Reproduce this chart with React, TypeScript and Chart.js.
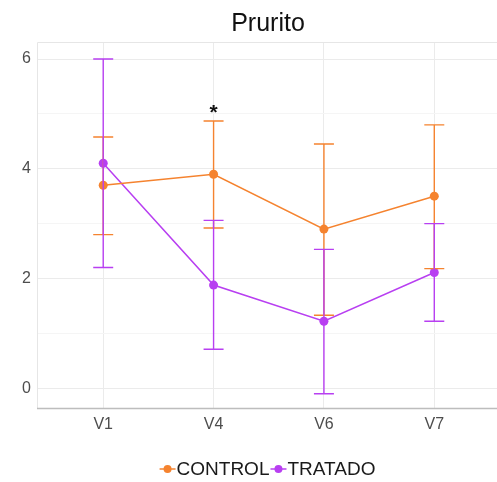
import React, { useEffect, useRef } from "react";
import { Chart, registerables } from "chart.js";

Chart.register(...registerables);

const categories = ["V1", "V4", "V6", "V7"];
const controlMean = [3.7, 3.9, 2.9, 3.5];
const controlLow = [2.8, 2.92, 1.33, 2.18];
const controlHigh = [4.58, 4.87, 4.45, 4.8];
const tratadoMean = [4.1, 1.88, 1.22, 2.11];
const tratadoLow = [2.2, 0.71, -0.1, 1.22];
const tratadoHigh = [6.0, 3.06, 2.53, 3.0];
const yTicks = [0, 2, 4, 6];
const yMinorTicks = [1, 3, 5];
const starCategory = 1;
const starValue = 5.05;
const titleText = "Prurito";
const seriesNames = ["CONTROL", "TRATADO"];

const ORANGE = "#f5832f";
const PURPLE = "#b83ff1";
const FONT = "'Liberation Sans', Arial, sans-serif";

export default function App() {
  const ref = useRef<HTMLCanvasElement | null>(null);

  useEffect(() => {
    if (!ref.current) return;
    const errorPlugin = {
      id: "extras",
      afterDatasetsDraw(chart: any) {
        const ctx = chart.ctx;
        const x = chart.scales.x;
        const y = chart.scales.y;
        const bars = [
          { lo: controlLow, hi: controlHigh, color: ORANGE },
          { lo: tratadoLow, hi: tratadoHigh, color: PURPLE },
        ];
        ctx.save();
        ctx.lineWidth = 1.4;
        bars.forEach((b) => {
          ctx.strokeStyle = b.color;
          b.lo.forEach((lo, i) => {
            const px = x.getPixelForValue(i);
            const y1 = y.getPixelForValue(lo);
            const y2 = y.getPixelForValue(b.hi[i]);
            ctx.beginPath();
            ctx.moveTo(px, y1);
            ctx.lineTo(px, y2);
            ctx.moveTo(px - 10, y1);
            ctx.lineTo(px + 10, y1);
            ctx.moveTo(px - 10, y2);
            ctx.lineTo(px + 10, y2);
            ctx.stroke();
          });
        });
        // asterisk
        ctx.fillStyle = "#111";
        ctx.font = `bold 21px ${FONT}`;
        ctx.textAlign = "center";
        ctx.textBaseline = "middle";
        ctx.fillText("*", x.getPixelForValue(starCategory), y.getPixelForValue(starValue) + 2);
        ctx.restore();
      },
      afterDraw(chart: any) {
        const ctx = chart.ctx;
        const area = chart.chartArea;
        const cx = (area.left + 499) / 2;
        ctx.save();
        // panel top/left border
        ctx.strokeStyle = "#e6e6e6";
        ctx.lineWidth = 1;
        ctx.beginPath();
        ctx.moveTo(area.left + 0.5, area.bottom);
        ctx.lineTo(area.left + 0.5, area.top + 0.5);
        ctx.lineTo(area.right, area.top + 0.5);
        ctx.stroke();
        // bottom axis line
        ctx.strokeStyle = "#bdbdbd";
        ctx.lineWidth = 1.5;
        ctx.beginPath();
        ctx.moveTo(area.left, area.bottom + 0.5);
        ctx.lineTo(area.right, area.bottom + 0.5);
        ctx.stroke();
        // title
        ctx.fillStyle = "#111";
        ctx.font = `25px ${FONT}`;
        ctx.textAlign = "center";
        ctx.textBaseline = "middle";
        ctx.fillText(titleText, cx, 24);
        // legend
        ctx.font = `19px ${FONT}`;
        const colors = [ORANGE, PURPLE];
        const keyW = 16;
        const widths = seriesNames.map((n) => ctx.measureText(n).width);
        const total = widths.reduce((a, b) => a + b, 0) + keyW * 2 + 2 * 2;
        let lx = cx - total / 2;
        const ly = 469;
        seriesNames.forEach((n, i) => {
          ctx.strokeStyle = colors[i];
          ctx.lineWidth = 1.5;
          ctx.beginPath();
          ctx.moveTo(lx, ly);
          ctx.lineTo(lx + keyW, ly);
          ctx.stroke();
          ctx.fillStyle = colors[i];
          ctx.beginPath();
          ctx.arc(lx + keyW / 2, ly, 4, 0, Math.PI * 2);
          ctx.fill();
          ctx.fillStyle = "#1a1a1a";
          ctx.textAlign = "left";
          ctx.fillText(n, lx + keyW + 1, ly + 1);
          lx += keyW + 2 + widths[i];
        });
        ctx.restore();
      },
    };

    const chart = new Chart(ref.current, {
      type: "line",
      data: {
        datasets: [
          {
            label: seriesNames[0],
            data: controlMean.map((v, i) => ({ x: i, y: v })),
            borderColor: ORANGE,
            backgroundColor: ORANGE,
            borderWidth: 1.5,
            pointRadius: 4.5,
            pointBorderWidth: 0,
            tension: 0,
          },
          {
            label: seriesNames[1],
            data: tratadoMean.map((v, i) => ({ x: i, y: v })),
            borderColor: PURPLE,
            backgroundColor: PURPLE,
            borderWidth: 1.5,
            pointRadius: 4.5,
            pointBorderWidth: 0,
            tension: 0,
          },
        ],
      },
      options: {
        animation: false,
        responsive: false,
        layout: { padding: { top: 42, left: 0, right: 0, bottom: 0 } },
        plugins: {
          legend: { display: false },
          title: { display: false },
          tooltip: { enabled: false },
        },
        scales: {
          x: {
            type: "linear",
            min: -0.6,
            max: 3.6,
            afterBuildTicks: (s: any) => {
              s.ticks = categories.map((_, i) => ({ value: i }));
            },
            afterFit: (s: any) => {
              s.height = 74;
            },
            ticks: {
              callback: (v: any) => categories[v] ?? "",
              color: "#4d4d4d",
              font: { family: FONT, size: 16 },
              padding: 7,
              maxRotation: 0,
            },
            grid: { color: "#ebebeb", lineWidth: 1, drawTicks: false },
            border: { display: false },
          },
          y: {
            type: "linear",
            min: -0.36,
            max: 6.31,
            afterBuildTicks: (s: any) => {
              s.ticks = [...yTicks, ...yMinorTicks].sort((a, b) => a - b).map((v) => ({ value: v }));
            },
            afterFit: (s: any) => {
              s.width = 37;
            },
            ticks: {
              callback: (v: any) => (yTicks.includes(v) ? String(v) : ""),
              color: "#4d4d4d",
              font: { family: FONT, size: 16 },
              padding: 6,
            },
            grid: {
              color: (c: any) => (yTicks.includes(c.tick?.value) ? "#ebebeb" : "#f5f5f5"),
              lineWidth: 1,
              drawTicks: false,
            },
            border: { display: false },
          },
        },
      },
      plugins: [errorPlugin],
    });
    return () => chart.destroy();
  }, []);

  return (
    <div style={{ position: "fixed", left: 0, top: 0, width: 497, height: 482, overflow: "hidden", background: "#fff" }}>
      <canvas ref={ref} width={505} height={482} style={{ display: "block" }} />
    </div>
  );
}
